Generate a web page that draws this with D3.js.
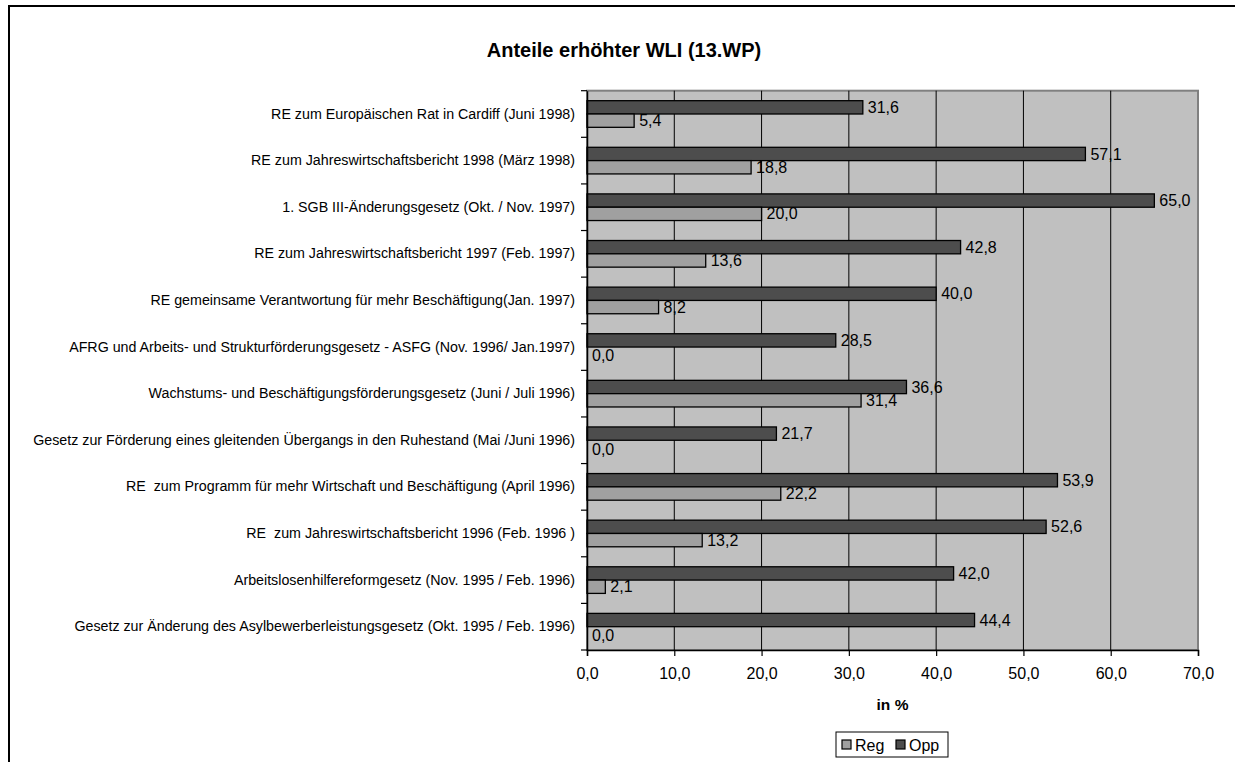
<!DOCTYPE html>
<html>
<head>
<meta charset="utf-8">
<script src="https://cdn.jsdelivr.net/npm/d3@7"></script>
<style>
  body { margin: 0; background: #fff; }
  text { font-family: Arial, "Liberation Sans", sans-serif; fill: #000; }
</style>
</head>
<body>
<div id="chart"></div>
<script>
// data, top to bottom as in the chart
var categories = [
  "RE zum Europäischen Rat in Cardiff (Juni 1998)",
  "RE zum Jahreswirtschaftsbericht 1998 (März 1998)",
  "1. SGB III-Änderungsgesetz (Okt. / Nov. 1997)",
  "RE zum Jahreswirtschaftsbericht 1997 (Feb. 1997)",
  "RE gemeinsame Verantwortung für mehr Beschäftigung(Jan. 1997)",
  "AFRG und Arbeits- und Strukturförderungsgesetz - ASFG (Nov. 1996/ Jan.1997)",
  "Wachstums- und Beschäftigungsförderungsgesetz (Juni / Juli 1996)",
  "Gesetz zur Förderung eines gleitenden Übergangs in den Ruhestand (Mai /Juni 1996)",
  "RE  zum Programm für mehr Wirtschaft und Beschäftigung (April 1996)",
  "RE  zum Jahreswirtschaftsbericht 1996 (Feb. 1996 )",
  "Arbeitslosenhilfereformgesetz (Nov. 1995 / Feb. 1996)",
  "Gesetz zur Änderung des Asylbewerberleistungsgesetz (Okt. 1995 / Feb. 1996)"
];
var opp = [31.6, 57.1, 65.0, 42.8, 40.0, 28.5, 36.6, 21.7, 53.9, 52.6, 42.0, 44.4];
var reg = [5.4, 18.8, 20.0, 13.6, 8.2, 0.0, 31.4, 0.0, 22.2, 13.2, 2.1, 0.0];
var seriesNames = ["Reg", "Opp"];
var xTicks = [0, 10, 20, 30, 40, 50, 60, 70];

var colors = {Reg: "#a0a0a0", Opp: "#4d4d4d"};
var W = 1235, H = 762;
var pLeft = 587, pRight = 1198, pTop = 90.7, pBottom = 650;
var numFmt = d => d3.format(".1f")(d).replace(".", ",");

var svg = d3.select("#chart").append("svg")
    .attr("width", W).attr("height", H);

// outer frame (only left and top visible)
svg.append("path")
    .attr("d", "M9," + H + " L9,6 L" + W + ",6")
    .attr("style", "fill:none;stroke:#000;stroke-width:2;");

svg.append("text")
    .attr("x", 624).attr("y", 57)
    .attr("text-anchor", "middle")
    .style("font-size", "20px").style("font-weight", "bold")
    .text("Anteile erhöhter WLI (13.WP)");

var x = d3.scaleLinear().domain([0, 70]).range([pLeft, pRight]);
var y = d3.scaleBand().domain(categories).range([pTop, pBottom]);
var yi = d3.scaleBand().domain(["Opp", "Reg"]).range([0, y.bandwidth()]).paddingOuter(0.75);

// plot background
svg.append("rect")
    .attr("x", pLeft).attr("y", pTop)
    .attr("width", pRight - pLeft).attr("height", pBottom - pTop)
    .attr("style", "fill:#c0c0c0;stroke:#808080;stroke-width:2;");

// gridlines
svg.append("g").selectAll("line")
    .data(xTicks.slice(1, -1))
    .join("line")
    .attr("x1", d => x(d)).attr("x2", d => x(d))
    .attr("y1", pTop).attr("y2", pBottom)
    .attr("style", "stroke:#000;stroke-width:1;");

// bars
var rows = categories.map(function(c, i) {
  return {cat: c, Opp: opp[i], Reg: reg[i]};
});
var g = svg.append("g");
rows.forEach(function(r) {
  ["Opp", "Reg"].forEach(function(s) {
    var by = y(r.cat) + yi(s);
    if (r[s] > 0) {
      g.append("rect")
        .attr("x", x(0)).attr("y", by)
        .attr("width", x(r[s]) - x(0)).attr("height", yi.bandwidth())
        .attr("style", "fill:" + colors[s] + ";stroke:#000;stroke-width:1.3;");
    }
    g.append("text")
      .attr("x", x(r[s]) + 5)
      .attr("y", by + yi.bandwidth() / 2 + (r[s] > 0 ? 0 : 2))
      .attr("dy", "0.35em")
      .style("font-size", "16px")
      .text(numFmt(r[s]));
  });
});

// axes
var xAxis = d3.axisBottom(x).tickValues(xTicks).tickSize(6).tickFormat(numFmt);
var gx = svg.append("g").attr("transform", "translate(0," + pBottom + ")").call(xAxis);
gx.select(".domain").attr("stroke", "#000").attr("stroke-width", 1.5);
gx.selectAll(".tick line").attr("stroke", "#000").attr("stroke-width", 1.2);
gx.selectAll(".tick text").attr("y", 18)
    .style("font-size", "16px").style("font-family", "Arial, 'Liberation Sans', sans-serif");

var yAxis = d3.axisLeft(y).tickSize(0).tickPadding(12);
var gy = svg.append("g").attr("transform", "translate(" + pLeft + ",0)").call(yAxis);
gy.select(".domain").attr("stroke", "#000").attr("stroke-width", 1.5);
gy.selectAll(".tick text")
    .style("font-size", "14.25px").style("white-space", "pre")
    .style("font-family", "Arial, 'Liberation Sans', sans-serif");
// ticks between categories
var bounds = categories.map(c => y(c)).concat([pBottom]);
gy.selectAll(".sep").data(bounds).join("line")
    .attr("x1", -6).attr("x2", 0)
    .attr("y1", d => d).attr("y2", d => d)
    .attr("stroke", "#000").attr("stroke-width", 1.2);

svg.append("text")
    .attr("x", (pLeft + pRight) / 2).attr("y", 710)
    .attr("text-anchor", "middle")
    .style("font-size", "15.5px").style("font-weight", "bold")
    .text("in %");

// legend
var lg = svg.append("g").attr("transform", "translate(836,732)");
lg.append("rect").attr("x", 0).attr("y", 0).attr("width", 112).attr("height", 25)
    .attr("style", "fill:#fff;stroke:#000;stroke-width:1;");
var lx = [6, 60];
seriesNames.forEach(function(s, i) {
  lg.append("rect").attr("x", lx[i]).attr("y", 8).attr("width", 9).attr("height", 9)
    .attr("style", "fill:" + colors[s] + ";stroke:#000;stroke-width:1.2;");
  lg.append("text").attr("x", lx[i] + 13).attr("y", 18.5)
    .style("font-size", "16px").text(s);
});
</script>
</body>
</html>
